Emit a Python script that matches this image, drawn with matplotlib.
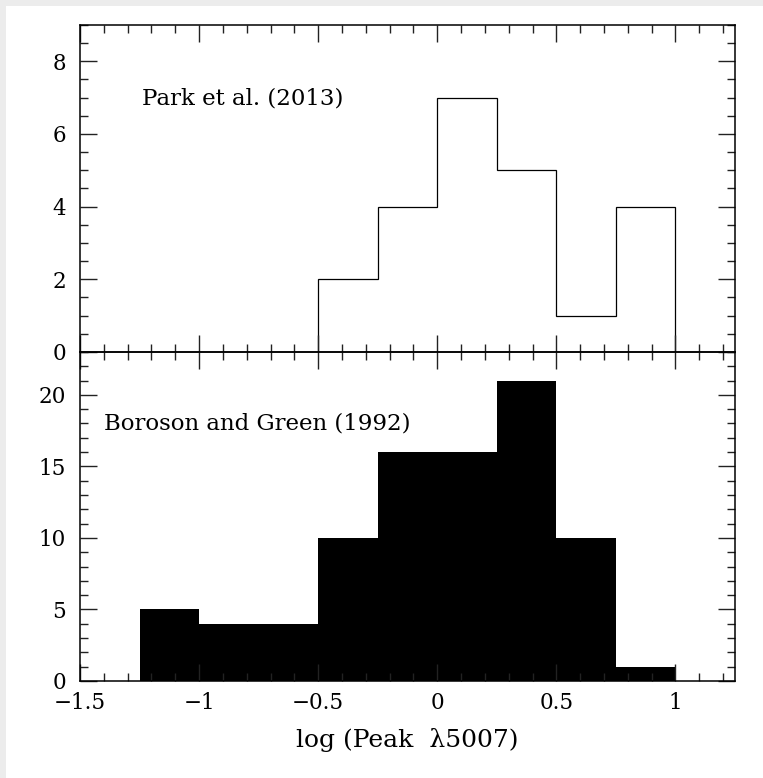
import numpy as np
import matplotlib.pyplot as plt
from matplotlib.patches import Rectangle
from matplotlib.ticker import MultipleLocator, FuncFormatter

# Park et al. (2013) histogram
park_edges = [-0.5, -0.25, 0.0, 0.25, 0.5, 0.75, 1.0]
park_counts = [2, 4, 7, 5, 1, 4]

# Boroson and Green (1992) histogram
bg_edges = [-1.25, -1.0, -0.75, -0.5, -0.25, 0.0, 0.25, 0.5, 0.75, 1.0]
bg_counts = [5, 4, 4, 10, 16, 16, 21, 10, 1]

plt.rcParams['font.family'] = ['DejaVu Serif']
plt.rcParams['axes.linewidth'] = 1.1

fig = plt.figure(figsize=(7.63, 7.78), dpi=100, facecolor='#ececec')
fig.patches.append(Rectangle((6 / 763, 0), 1, 1 - 6 / 778, transform=fig.transFigure,
                             facecolor='white', edgecolor='none', zorder=-1))

ax_top = fig.add_axes([0.1048, 0.5476, 0.8585, 0.4203])
ax_bot = fig.add_axes([0.1048, 0.1247, 0.8585, 0.4229], sharex=ax_top)

ax_top.stairs(park_counts, park_edges, fill=False, color='black', linewidth=0.9, baseline=0)
ax_bot.stairs(bg_counts, bg_edges, fill=True, color='black', linewidth=0, baseline=0)

ax_top.set_xlim(-1.5, 1.25)
ax_top.set_ylim(0, 9)
ax_bot.set_ylim(0, 23)

fmt = FuncFormatter(lambda v, pos: f'{v:g}'.replace('-', '\u2212'))

ax_top.yaxis.set_major_locator(MultipleLocator(2))
ax_top.yaxis.set_minor_locator(MultipleLocator(0.5))
ax_bot.yaxis.set_major_locator(MultipleLocator(5))
ax_bot.yaxis.set_minor_locator(MultipleLocator(1))
ax_bot.xaxis.set_major_locator(MultipleLocator(0.5))
ax_bot.xaxis.set_minor_locator(MultipleLocator(0.1))
ax_bot.xaxis.set_major_formatter(fmt)

for ax in (ax_top, ax_bot):
    ax.set_facecolor('none')
    ax.tick_params(which='both', direction='in', top=True, right=True,
                   labelsize=15.5, color='#222222')
    ax.tick_params(which='major', length=12, width=1.0)
    ax.tick_params(which='minor', length=6, width=1.0)
    ax.tick_params(axis='y', pad=10)
    ax.tick_params(axis='x', pad=8)

ax_top.tick_params(labelbottom=False)
ax_bot.set_xlabel('log (Peak  λ5007)', fontsize=18, labelpad=10)

ax_top.text(-1.24, 6.97, 'Park et al. (2013)', fontsize=16.5, va='center')
ax_bot.text(-1.40, 18.0, 'Boroson and Green (1992)', fontsize=16.5, va='center')

fig.savefig('out.png', dpi=100, facecolor=fig.get_facecolor())
